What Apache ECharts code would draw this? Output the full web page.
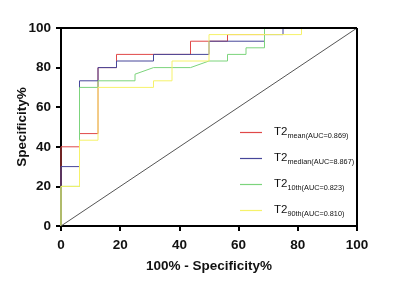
<!DOCTYPE html>
<html>
<head>
<meta charset="utf-8">
<script src="https://cdn.jsdelivr.net/npm/echarts@6/dist/echarts.min.js"></script>
<style>
  html, body { margin: 0; padding: 0; background: #fff; }
  #chart { width: 404px; height: 288px; }
</style>
</head>
<body>
<div id="chart"></div>
<script>
// ROC curves: [100% - specificity, sensitivity]
const meanPts = [[0, 0], [0, 40], [6.25, 40], [6.25, 46.67], [12.5, 46.67], [12.5, 80], [18.75, 80], [18.75, 86.67], [43.75, 86.67], [43.75, 93.33], [56.25, 93.33], [56.25, 96.67], [68.75, 96.67], [68.75, 100], [100, 100]]
const medianPts = [[0, 0], [0, 30], [6.25, 30], [6.25, 73.33], [12.5, 73.33], [12.5, 80], [18.75, 80], [18.75, 83.33], [31.25, 83.33], [31.25, 86.67], [50, 86.67], [50, 93.33], [68.75, 93.33], [68.75, 96.67], [75, 96.67], [75, 100], [100, 100]]
const p10Pts = [[0, 0], [0, 20], [6.25, 20], [6.25, 70], [12.5, 70], [12.5, 73.33], [25, 73.33], [25, 76.67], [31.25, 80], [43.75, 80], [50, 83.33], [56.25, 83.33], [56.25, 86.67], [62.5, 86.67], [62.5, 90], [68.75, 90], [68.75, 100], [100, 100]]
const p90Pts = [[0, 0], [0, 20], [6.25, 20], [6.25, 43.33], [12.5, 43.33], [12.5, 70], [31.25, 70], [31.25, 73.33], [37.5, 73.33], [37.5, 83.33], [50, 83.33], [50, 96.67], [81.25, 96.67], [81.25, 100], [100, 100]]
const refLine = [[0, 0], [100, 100]]

const seriesNames = ['mean', 'median', '10th', '90th']
const aucLabels = ['(AUC=0.869)', '(AUC=8.867)', '(AUC=0.823)', '(AUC=0.810)']

const chart = echarts.init(document.getElementById('chart'))

const labelFont = { color: '#111', fontSize: 13.5, fontWeight: 'bold', fontFamily: 'Liberation Sans' }

const axisCommon = {
  type: 'value',
  min: 0,
  max: 100,
  interval: 20,
  nameMoveOverlap: false,
  axisLine: { show: true, lineStyle: { color: '#000', width: 2 } },
  axisTick: { show: true, length: 5, lineStyle: { color: '#000', width: 2 } },
  splitLine: { show: false },
  nameTextStyle: labelFont
}

function line(name, data, color) {
  return {
    name,
    type: 'line',
    data,
    symbol: 'none',
    lineStyle: { color, width: 1 },
    itemStyle: { color }
  }
}

chart.setOption({
  animation: false,
  grid: { left: 61, right: 47, top: 28, bottom: 62, outerBoundsMode: 'none', containLabel: false },
  xAxis: {
    ...axisCommon,
    name: '100% - Specificity%',
    nameLocation: 'middle',
    nameGap: 33,
    axisLabel: { ...labelFont, margin: 12 }
  },
  yAxis: {
    ...axisCommon,
    name: 'Specificity%',
    nameLocation: 'middle',
    nameGap: 32,
    axisLabel: { ...labelFont, margin: 10 }
  },
  legend: {
    orient: 'vertical',
    left: 240,
    top: 125.5,
    padding: 0,
    icon: 'rect',
    itemWidth: 22,
    itemHeight: 1.2,
    itemGap: 12,
    data: seriesNames,
    formatter: (name) => {
      const i = seriesNames.indexOf(name)
      return '{a|T2}{b|' + name + aucLabels[i] + '}'
    },
    textStyle: {
      overflow: 'none',
      lineHeight: 14,
      rich: {
        a: { fontSize: 11.5, color: '#111', fontFamily: 'Liberation Sans', lineHeight: 14, verticalAlign: 'top', padding: [0, 0, 0, 7] },
        b: { fontSize: 7.3, color: '#111', fontFamily: 'Liberation Sans', lineHeight: 14, verticalAlign: 'bottom' }
      }
    }
  },
  series: [
    line('mean', meanPts, '#e04848'),
    line('median', medianPts, '#46469a'),
    line('10th', p10Pts, '#7cd47c'),
    line('90th', p90Pts, '#f6f26a'),
    {
      type: 'line',
      data: refLine,
      symbol: 'none',
      silent: true,
      lineStyle: { color: '#555', width: 1 },
      markLine: {
        silent: true,
        symbol: 'none',
        label: { show: false },
        lineStyle: { color: '#000', width: 2, type: 'solid' },
        data: [
          [{ coord: [0, 100] }, { coord: [100, 100] }],
          [{ coord: [100, 0] }, { coord: [100, 100] }]
        ]
      }
    }
  ]
})
</script>
</body>
</html>
